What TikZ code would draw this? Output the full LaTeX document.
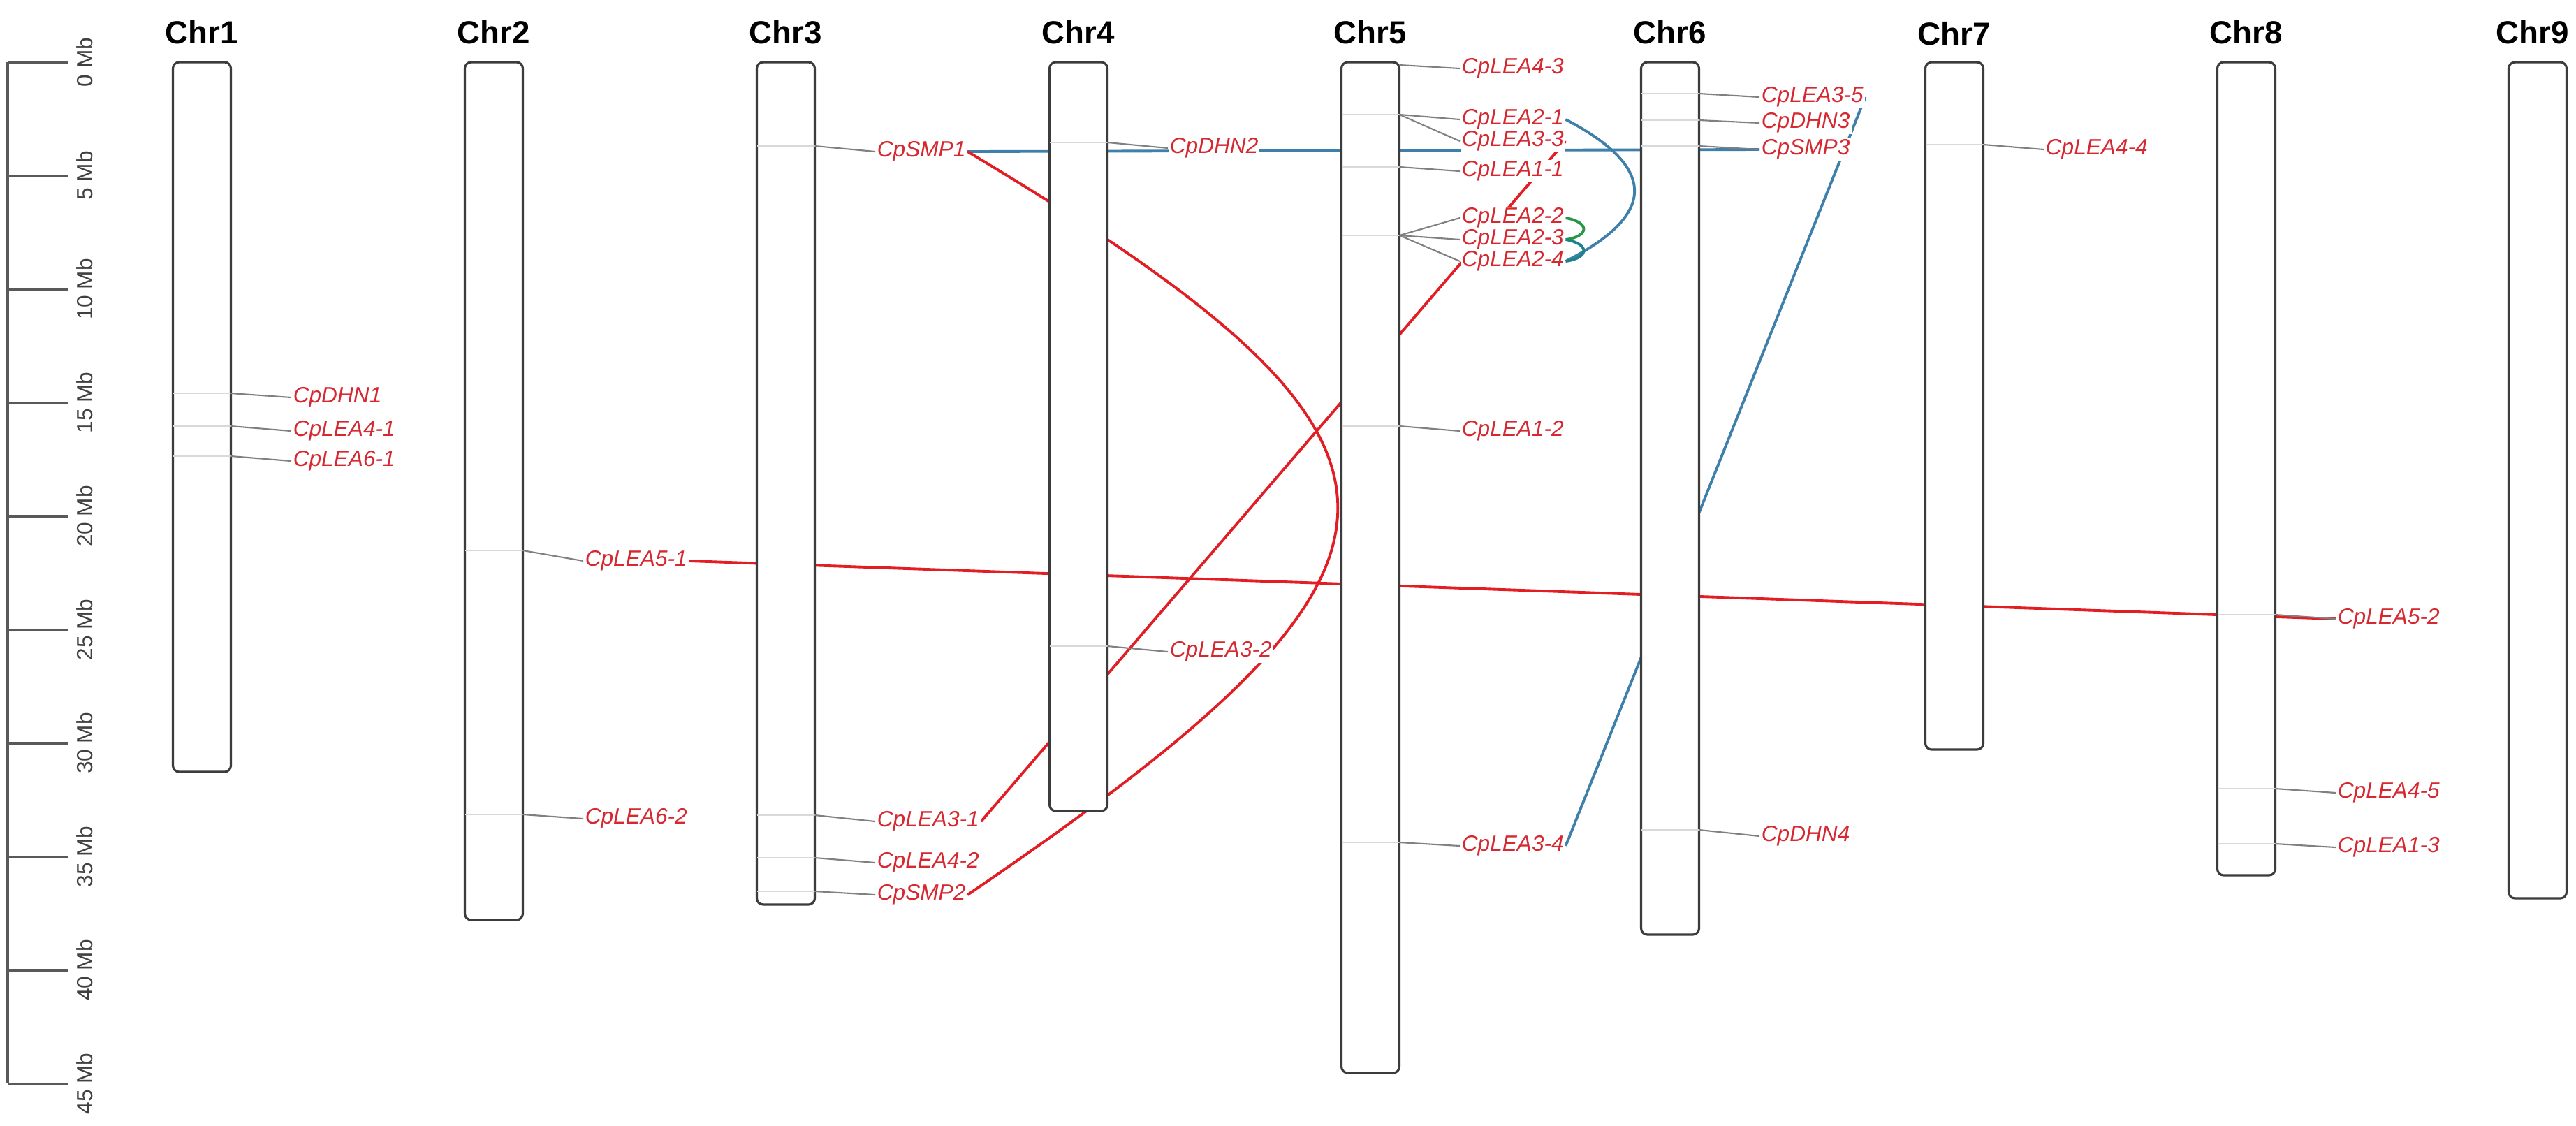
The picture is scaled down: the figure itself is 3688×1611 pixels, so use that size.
\documentclass[tikz,border=0pt]{standalone}
\usepackage{fontspec}
\setmainfont{Liberation Sans}
\usetikzlibrary{calc}

\definecolor{genered}{RGB}{214,40,48}
\definecolor{linkred}{RGB}{226,30,36}
\definecolor{linkblue}{RGB}{62,128,170}
\definecolor{linkgreen}{RGB}{40,150,70}
\definecolor{linkteal}{RGB}{30,130,140}
\definecolor{chromline}{RGB}{60,60,60}

\pgfdeclarelayer{links}
\pgfdeclarelayer{chroms}
\pgfsetlayers{links,chroms,main}

\begin{document}
\begin{tikzpicture}[
    x=0.1mm, y=-0.1mm,
    chrom/.style={draw=chromline, line width=0.9pt, fill=white, rounded corners=0.9mm,
                  minimum width=8.3mm, inner sep=0pt, outer sep=0pt, anchor=north},
    chrname/.style={font=\fontsize{13}{15}\selectfont\bfseries, inner sep=0pt},
    gene/.style={anchor=west, fill=white, inner sep=0.6pt, text=genered,
                 font=\fontsize{9}{10}\selectfont\itshape},
    conn/.style={draw=black!50, line width=0.6pt},
    genemark/.style={draw=black!15, line width=0.4pt},
    mb/.style={rotate=90, font=\fontsize{9}{10}\selectfont, text=black!75},
    scalebar/.style={draw=black!65, line width=0.9pt},
    redlink/.style={draw=linkred, line width=1.1pt},
    bluelink/.style={draw=linkblue, line width=1.1pt},
  ]
  \useasboundingbox (0,0) rectangle (3688,1611);

  % scale bar
  \draw[scalebar] (11,89) -- (11,1551);
  \draw[scalebar] (11,89) -- (97,89) node[mb] (mb0) at (121,89) {0 Mb};
  \draw[scalebar] (11,251.5) -- (97,251.5) node[mb] (mb5) at (121,251.5) {5 Mb};
  \draw[scalebar] (11,414) -- (97,414) node[mb] (mb10) at (121,414) {10 Mb};
  \draw[scalebar] (11,576.5) -- (97,576.5) node[mb] (mb15) at (121,576.5) {15 Mb};
  \draw[scalebar] (11,739) -- (97,739) node[mb] (mb20) at (121,739) {20 Mb};
  \draw[scalebar] (11,901.5) -- (97,901.5) node[mb] (mb25) at (121,901.5) {25 Mb};
  \draw[scalebar] (11,1064) -- (97,1064) node[mb] (mb30) at (121,1064) {30 Mb};
  \draw[scalebar] (11,1226.5) -- (97,1226.5) node[mb] (mb35) at (121,1226.5) {35 Mb};
  \draw[scalebar] (11,1389) -- (97,1389) node[mb] (mb40) at (121,1389) {40 Mb};
  \draw[scalebar] (11,1551.5) -- (97,1551.5) node[mb] (mb45) at (121,1551.5) {45 Mb};

  % chromosomes
  \begin{pgfonlayer}{chroms}
    \node[chrom, minimum height=101.6mm] (chr1) at (289,89) {};
    \node[chrom, minimum height=122.8mm] (chr2) at (707,89) {};
    \node[chrom, minimum height=120.6mm] (chr3) at (1125,89) {};
    \node[chrom, minimum height=107.2mm] (chr4) at (1544,89) {};
    \node[chrom, minimum height=144.7mm] (chr5) at (1962,89) {};
    \node[chrom, minimum height=124.9mm] (chr6) at (2391,89) {};
    \node[chrom, minimum height=98.4mm] (chr7) at (2798,89) {};
    \node[chrom, minimum height=116.4mm] (chr8) at (3216,89) {};
    \node[chrom, minimum height=119.7mm] (chr9) at (3633,89) {};
  \end{pgfonlayer}

  \node[chrname] (name1) at (289,46) {Chr1};
  \node[chrname] (name2) at (707,46) {Chr2};
  \node[chrname] (name3) at (1125,46) {Chr3};
  \node[chrname] (name4) at (1544,46) {Chr4};
  \node[chrname] (name5) at (1962,46) {Chr5};
  \node[chrname] (name6) at (2391,46) {Chr6};
  \node[chrname] (name7) at (2798,48) {Chr7};
  \node[chrname] (name8) at (3216,46) {Chr8};
  \node[chrname] (name9) at (3626,46) {Chr9};

  % gene labels
  \node[gene] (dhn1) at (417,569) {CpDHN1};
  \node[gene] (lea41) at (417,617) {CpLEA4-1};
  \node[gene] (lea61) at (417,660) {CpLEA6-1};
  \node[gene] (lea51) at (835,803) {CpLEA5-1};
  \node[gene] (lea62) at (835,1172) {CpLEA6-2};
  \node[gene] (smp1) at (1253,217) {CpSMP1};
  \node[gene] (lea31) at (1253,1176) {CpLEA3-1};
  \node[gene] (lea42) at (1253,1235) {CpLEA4-2};
  \node[gene] (smp2) at (1253,1281) {CpSMP2};
  \node[gene] (dhn2) at (1672,212) {CpDHN2};
  \node[gene] (lea32) at (1672,933) {CpLEA3-2};
  \node[gene] (lea43) at (2090,98) {CpLEA4-3};
  \node[gene] (lea21) at (2090,171) {CpLEA2-1};
  \node[gene] (lea33) at (2090,202) {CpLEA3-3};
  \node[gene] (lea11) at (2090,245) {CpLEA1-1};
  \node[gene] (lea22) at (2090,312) {CpLEA2-2};
  \node[gene] (lea23) at (2090,343) {CpLEA2-3};
  \node[gene] (lea24) at (2090,374) {CpLEA2-4};
  \node[gene] (lea12) at (2090,617) {CpLEA1-2};
  \node[gene] (lea34) at (2090,1211) {CpLEA3-4};
  \node[gene] (lea35) at (2519,139) {CpLEA3-5};
  \node[gene] (dhn3) at (2519,176) {CpDHN3};
  \node[gene] (smp3) at (2519,214) {CpSMP3};
  \node[gene] (dhn4) at (2519,1197) {CpDHN4};
  \node[gene] (lea44) at (2926,214) {CpLEA4-4};
  \node[gene] (lea52) at (3344,886) {CpLEA5-2};
  \node[gene] (lea45) at (3344,1135) {CpLEA4-5};
  \node[gene] (lea13) at (3344,1213) {CpLEA1-3};

  % gene positions on the chromosomes
  \draw[genemark] (chr1.west |- 0,563) -- (chr1.east |- 0,563);
  \draw[genemark] (chr1.west |- 0,610) -- (chr1.east |- 0,610);
  \draw[genemark] (chr1.west |- 0,653) -- (chr1.east |- 0,653);
  \draw[genemark] (chr2.west |- 0,788) -- (chr2.east |- 0,788);
  \draw[genemark] (chr2.west |- 0,1166) -- (chr2.east |- 0,1166);
  \draw[genemark] (chr3.west |- 0,209) -- (chr3.east |- 0,209);
  \draw[genemark] (chr3.west |- 0,1167) -- (chr3.east |- 0,1167);
  \draw[genemark] (chr3.west |- 0,1228) -- (chr3.east |- 0,1228);
  \draw[genemark] (chr3.west |- 0,1276) -- (chr3.east |- 0,1276);
  \draw[genemark] (chr4.west |- 0,204) -- (chr4.east |- 0,204);
  \draw[genemark] (chr4.west |- 0,925) -- (chr4.east |- 0,925);
  \draw[genemark] (chr5.west |- 0,164) -- (chr5.east |- 0,164);
  \draw[genemark] (chr5.west |- 0,239) -- (chr5.east |- 0,239);
  \draw[genemark] (chr5.west |- 0,337) -- (chr5.east |- 0,337);
  \draw[genemark] (chr5.west |- 0,610) -- (chr5.east |- 0,610);
  \draw[genemark] (chr5.west |- 0,1206) -- (chr5.east |- 0,1206);
  \draw[genemark] (chr6.west |- 0,134) -- (chr6.east |- 0,134);
  \draw[genemark] (chr6.west |- 0,172) -- (chr6.east |- 0,172);
  \draw[genemark] (chr6.west |- 0,209) -- (chr6.east |- 0,209);
  \draw[genemark] (chr6.west |- 0,1188) -- (chr6.east |- 0,1188);
  \draw[genemark] (chr7.west |- 0,207) -- (chr7.east |- 0,207);
  \draw[genemark] (chr8.west |- 0,880) -- (chr8.east |- 0,880);
  \draw[genemark] (chr8.west |- 0,1129) -- (chr8.east |- 0,1129);
  \draw[genemark] (chr8.west |- 0,1208) -- (chr8.east |- 0,1208);

  % label connectors
  \draw[conn] (chr1.east |- 0,563) -- (dhn1.west);
  \draw[conn] (chr1.east |- 0,610) -- (lea41.west);
  \draw[conn] (chr1.east |- 0,653) -- (lea61.west);
  \draw[conn] (chr2.east |- 0,788) -- (lea51.west);
  \draw[conn] (chr2.east |- 0,1166) -- (lea62.west);
  \draw[conn] (chr3.east |- 0,209) -- (smp1.west);
  \draw[conn] (chr3.east |- 0,1167) -- (lea31.west);
  \draw[conn] (chr3.east |- 0,1228) -- (lea42.west);
  \draw[conn] (chr3.east |- 0,1276) -- (smp2.west);
  \draw[conn] (chr4.east |- 0,204) -- (dhn2.west);
  \draw[conn] (chr4.east |- 0,925) -- (lea32.west);
  \draw[conn] (chr5.east |- 0,93) -- (lea43.west);
  \draw[conn] (chr5.east |- 0,164) -- (lea21.west);
  \draw[conn] (chr5.east |- 0,164) -- (lea33.west);
  \draw[conn] (chr5.east |- 0,239) -- (lea11.west);
  \draw[conn] (chr5.east |- 0,337) -- (lea22.west);
  \draw[conn] (chr5.east |- 0,337) -- (lea23.west);
  \draw[conn] (chr5.east |- 0,337) -- (lea24.west);
  \draw[conn] (chr5.east |- 0,610) -- (lea12.west);
  \draw[conn] (chr5.east |- 0,1206) -- (lea34.west);
  \draw[conn] (chr6.east |- 0,134) -- (lea35.west);
  \draw[conn] (chr6.east |- 0,172) -- (dhn3.west);
  \draw[conn] (chr6.east |- 0,209) -- (smp3.west);
  \draw[conn] (chr6.east |- 0,1188) -- (dhn4.west);
  \draw[conn] (chr7.east |- 0,207) -- (lea44.west);
  \draw[conn] (chr8.east |- 0,880) -- (lea52.west);
  \draw[conn] (chr8.east |- 0,1129) -- (lea45.west);
  \draw[conn] (chr8.east |- 0,1208) -- (lea13.west);

  % duplication links, behind chromosomes and labels
  \begin{pgfonlayer}{links}
    \draw[bluelink] (smp1.east) -- (smp3.west);
    \draw[redlink] (smp1.east) .. controls (2092,640) and (2092,800) .. (smp2.east);
    \draw[redlink] (lea51.east) -- (lea52.west);
    \draw[redlink] (lea31.east) -- (lea33.east);
    \draw[bluelink] (lea34.east) -- (lea35.east);
    \draw[bluelink] (lea21.east) .. controls (2373,240) and (2373,307) .. (lea24.east);
    \draw[draw=linkgreen, line width=1.1pt] (lea22.east) .. controls (2276,318) and (2276,338) .. (lea23.east);
    \draw[draw=linkteal, line width=1.1pt] (lea23.east) .. controls (2276,349) and (2276,369) .. (lea24.east);
  \end{pgfonlayer}
\end{tikzpicture}
\end{document}
